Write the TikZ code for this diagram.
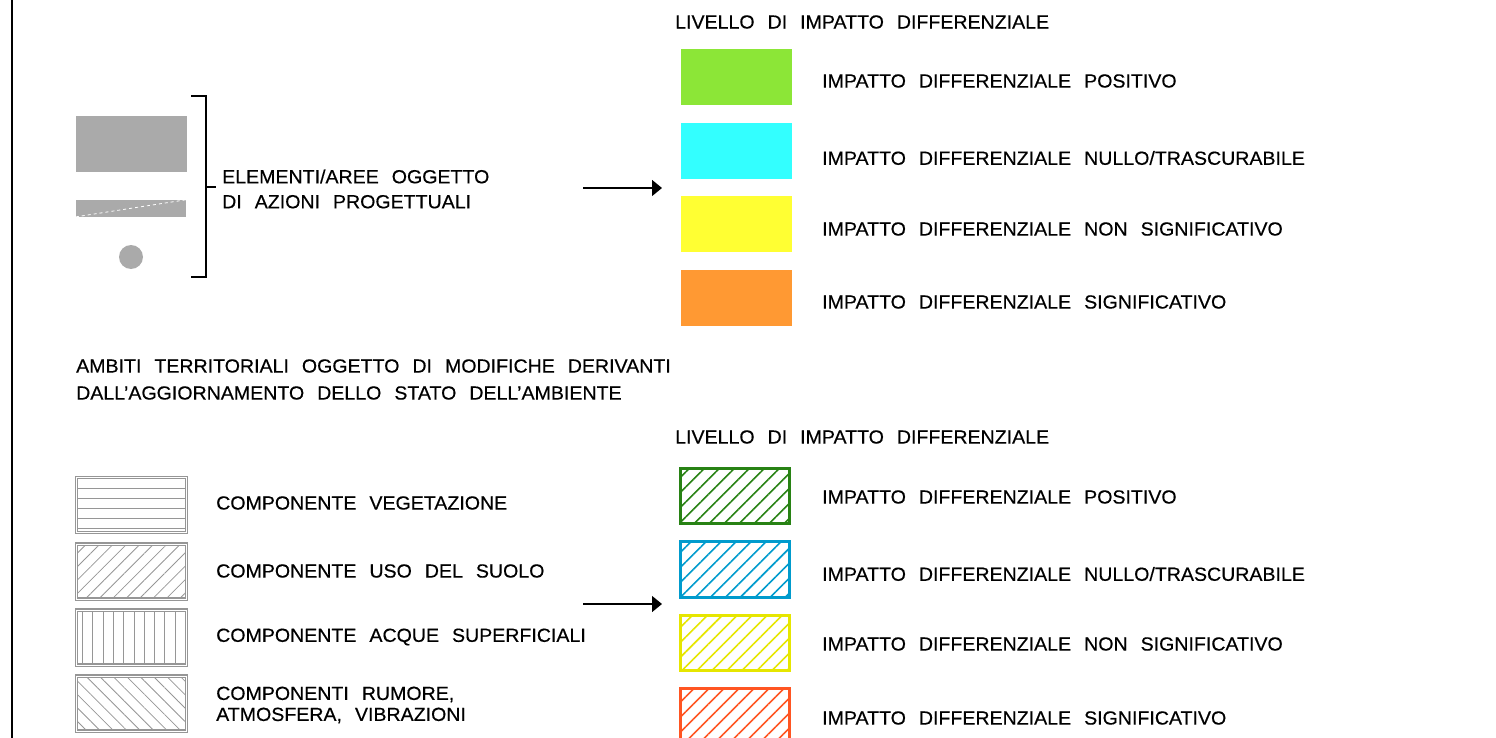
\documentclass[tikz,border=0pt]{standalone}
\usepackage{fontspec}
\setmainfont{Liberation Sans}[FakeStretch=1.03,FakeBold=0.4]
\usetikzlibrary{arrows.meta,patterns.meta}

\definecolor{cadgray}{RGB}{170,170,170}
\definecolor{hatchgray}{RGB}{150,150,150}
\definecolor{posfill}{RGB}{140,230,55}
\definecolor{nullfill}{RGB}{51,255,255}
\definecolor{nonfill}{RGB}{255,255,51}
\definecolor{sigfill}{RGB}{255,153,51}
\definecolor{posline}{RGB}{40,130,20}
\definecolor{nullline}{RGB}{0,155,205}
\definecolor{nonline}{RGB}{230,230,0}
\definecolor{sigline}{RGB}{255,85,34}

\newcommand{\cadfont}{\fontsize{19pt}{25pt}\selectfont\spaceskip=13pt\relax}

\tikzset{
  legtext/.style={anchor=west,inner sep=0pt,font=\cadfont},
  swatch/.style={rectangle,minimum width=111pt,minimum height=56pt,inner sep=0pt},
  hatchbox/.style={rectangle,minimum width=109pt,minimum height=55.5pt,inner sep=0pt,line width=3pt},
  greybox/.style={rectangle,minimum width=110pt,minimum height=55pt,inner sep=0pt,
    draw=hatchgray,double=white,double distance=1pt,line width=1.1pt,pattern color=hatchgray},
  conn/.style={-{Triangle[length=10pt,width=16pt]},line width=1.3pt}
}

\begin{document}
\begin{tikzpicture}[x=1pt,y=-1pt]
\useasboundingbox (0,0) rectangle (1496,738);
\draw[line width=1.5pt] (12,0) -- (12,738);

% elementi / aree oggetto di azioni progettuali
\draw (131.5,144) node (area) [swatch,fill=cadgray] {};
\draw (131,208.3) node (strip) [rectangle,fill=cadgray,minimum width=110pt,minimum height=16.7pt,inner sep=0pt] {};
\draw[white,dashed,line width=0.8pt] (strip.south west) -- (strip.north east);
\draw (131,257) node (spot) [circle,fill=cadgray,minimum size=24pt,inner sep=0pt] {};
\draw[line width=1.5pt] (191,96) -- (206,96) -- (206,277) -- (191,277);
\draw[line width=1.5pt] (206,187) -- (216,187);
\draw (222,189) node (elem) [legtext,align=left] {ELEMENTI/AREE OGGETTO\\DI AZIONI PROGETTUALI};

\coordinate (arrA) at (583,188);
\coordinate (arrB) at (662,188);
\draw[conn] (arrA) -- (arrB);

\draw (675,22) node (livA) [legtext] {LIVELLO DI IMPATTO DIFFERENZIALE};
\draw (736.5,77) node (posA) [swatch,fill=posfill] {};
\draw (736.5,151) node (nullA) [swatch,fill=nullfill] {};
\draw (736.5,224) node (nonA) [swatch,fill=nonfill] {};
\draw (736.5,298) node (sigA) [swatch,fill=sigfill] {};
\draw (822,81) node (tposA) [legtext] {IMPATTO DIFFERENZIALE POSITIVO};
\draw (822,158) node (tnullA) [legtext] {IMPATTO DIFFERENZIALE NULLO/TRASCURABILE};
\draw (822,229) node (tnonA) [legtext] {IMPATTO DIFFERENZIALE NON SIGNIFICATIVO};
\draw (822,302) node (tsigA) [legtext] {IMPATTO DIFFERENZIALE SIGNIFICATIVO};

% ambiti territoriali
\draw (76,379.5) node (ambiti) [legtext,align=left] {AMBITI TERRITORIALI OGGETTO DI MODIFICHE DERIVANTI\\[2pt]DALL'AGGIORNAMENTO DELLO STATO DELL'AMBIENTE};

\draw (131.5,505) node (veg) [greybox,pattern={Lines[angle=0,distance=10pt,line width=0.8pt]}] {};
\draw (131.5,571.5) node (suolo) [greybox,pattern={Lines[angle=45,distance=9.5pt,line width=0.8pt]}] {};
\draw (131.5,637.5) node (acque) [greybox,pattern={Lines[angle=90,distance=10.3pt,line width=0.8pt]}] {};
\draw (131.5,703.5) node (rumore) [greybox,pattern={Lines[angle=-45,distance=9.5pt,line width=0.8pt]}] {};
\draw (216,503) node (tveg) [legtext] {COMPONENTE VEGETAZIONE};
\draw (216,571) node (tsuolo) [legtext] {COMPONENTE USO DEL SUOLO};
\draw (216,637) node (tacque) [legtext] {COMPONENTE ACQUE SUPERFICIALI};
\draw (216,705) node (trumore) [legtext,align=left] {COMPONENTI RUMORE,\\[-4pt]ATMOSFERA, VIBRAZIONI};

\coordinate (arrC) at (583,604);
\coordinate (arrD) at (662,604);
\draw[conn] (arrC) -- (arrD);

\draw (675,437) node (livB) [legtext] {LIVELLO DI IMPATTO DIFFERENZIALE};
\draw (735,496) node (posB) [hatchbox,draw=posline,pattern={Lines[angle=45,distance=10.6pt,line width=1.6pt]},pattern color=posline] {};
\draw (735,569.5) node (nullB) [hatchbox,draw=nullline,pattern={Lines[angle=45,distance=10.6pt,line width=1.6pt]},pattern color=nullline] {};
\draw (735,643) node (nonB) [hatchbox,draw=nonline,pattern={Lines[angle=45,distance=10.6pt,line width=1.6pt]},pattern color=nonline] {};
\draw (735,716.5) node (sigB) [hatchbox,draw=sigline,pattern={Lines[angle=45,distance=10.6pt,line width=1.6pt]},pattern color=sigline] {};
\draw (822,497) node (tposB) [legtext] {IMPATTO DIFFERENZIALE POSITIVO};
\draw (822,574) node (tnullB) [legtext] {IMPATTO DIFFERENZIALE NULLO/TRASCURABILE};
\draw (822,644) node (tnonB) [legtext] {IMPATTO DIFFERENZIALE NON SIGNIFICATIVO};
\draw (822,718) node (tsigB) [legtext] {IMPATTO DIFFERENZIALE SIGNIFICATIVO};
\end{tikzpicture}
\end{document}
